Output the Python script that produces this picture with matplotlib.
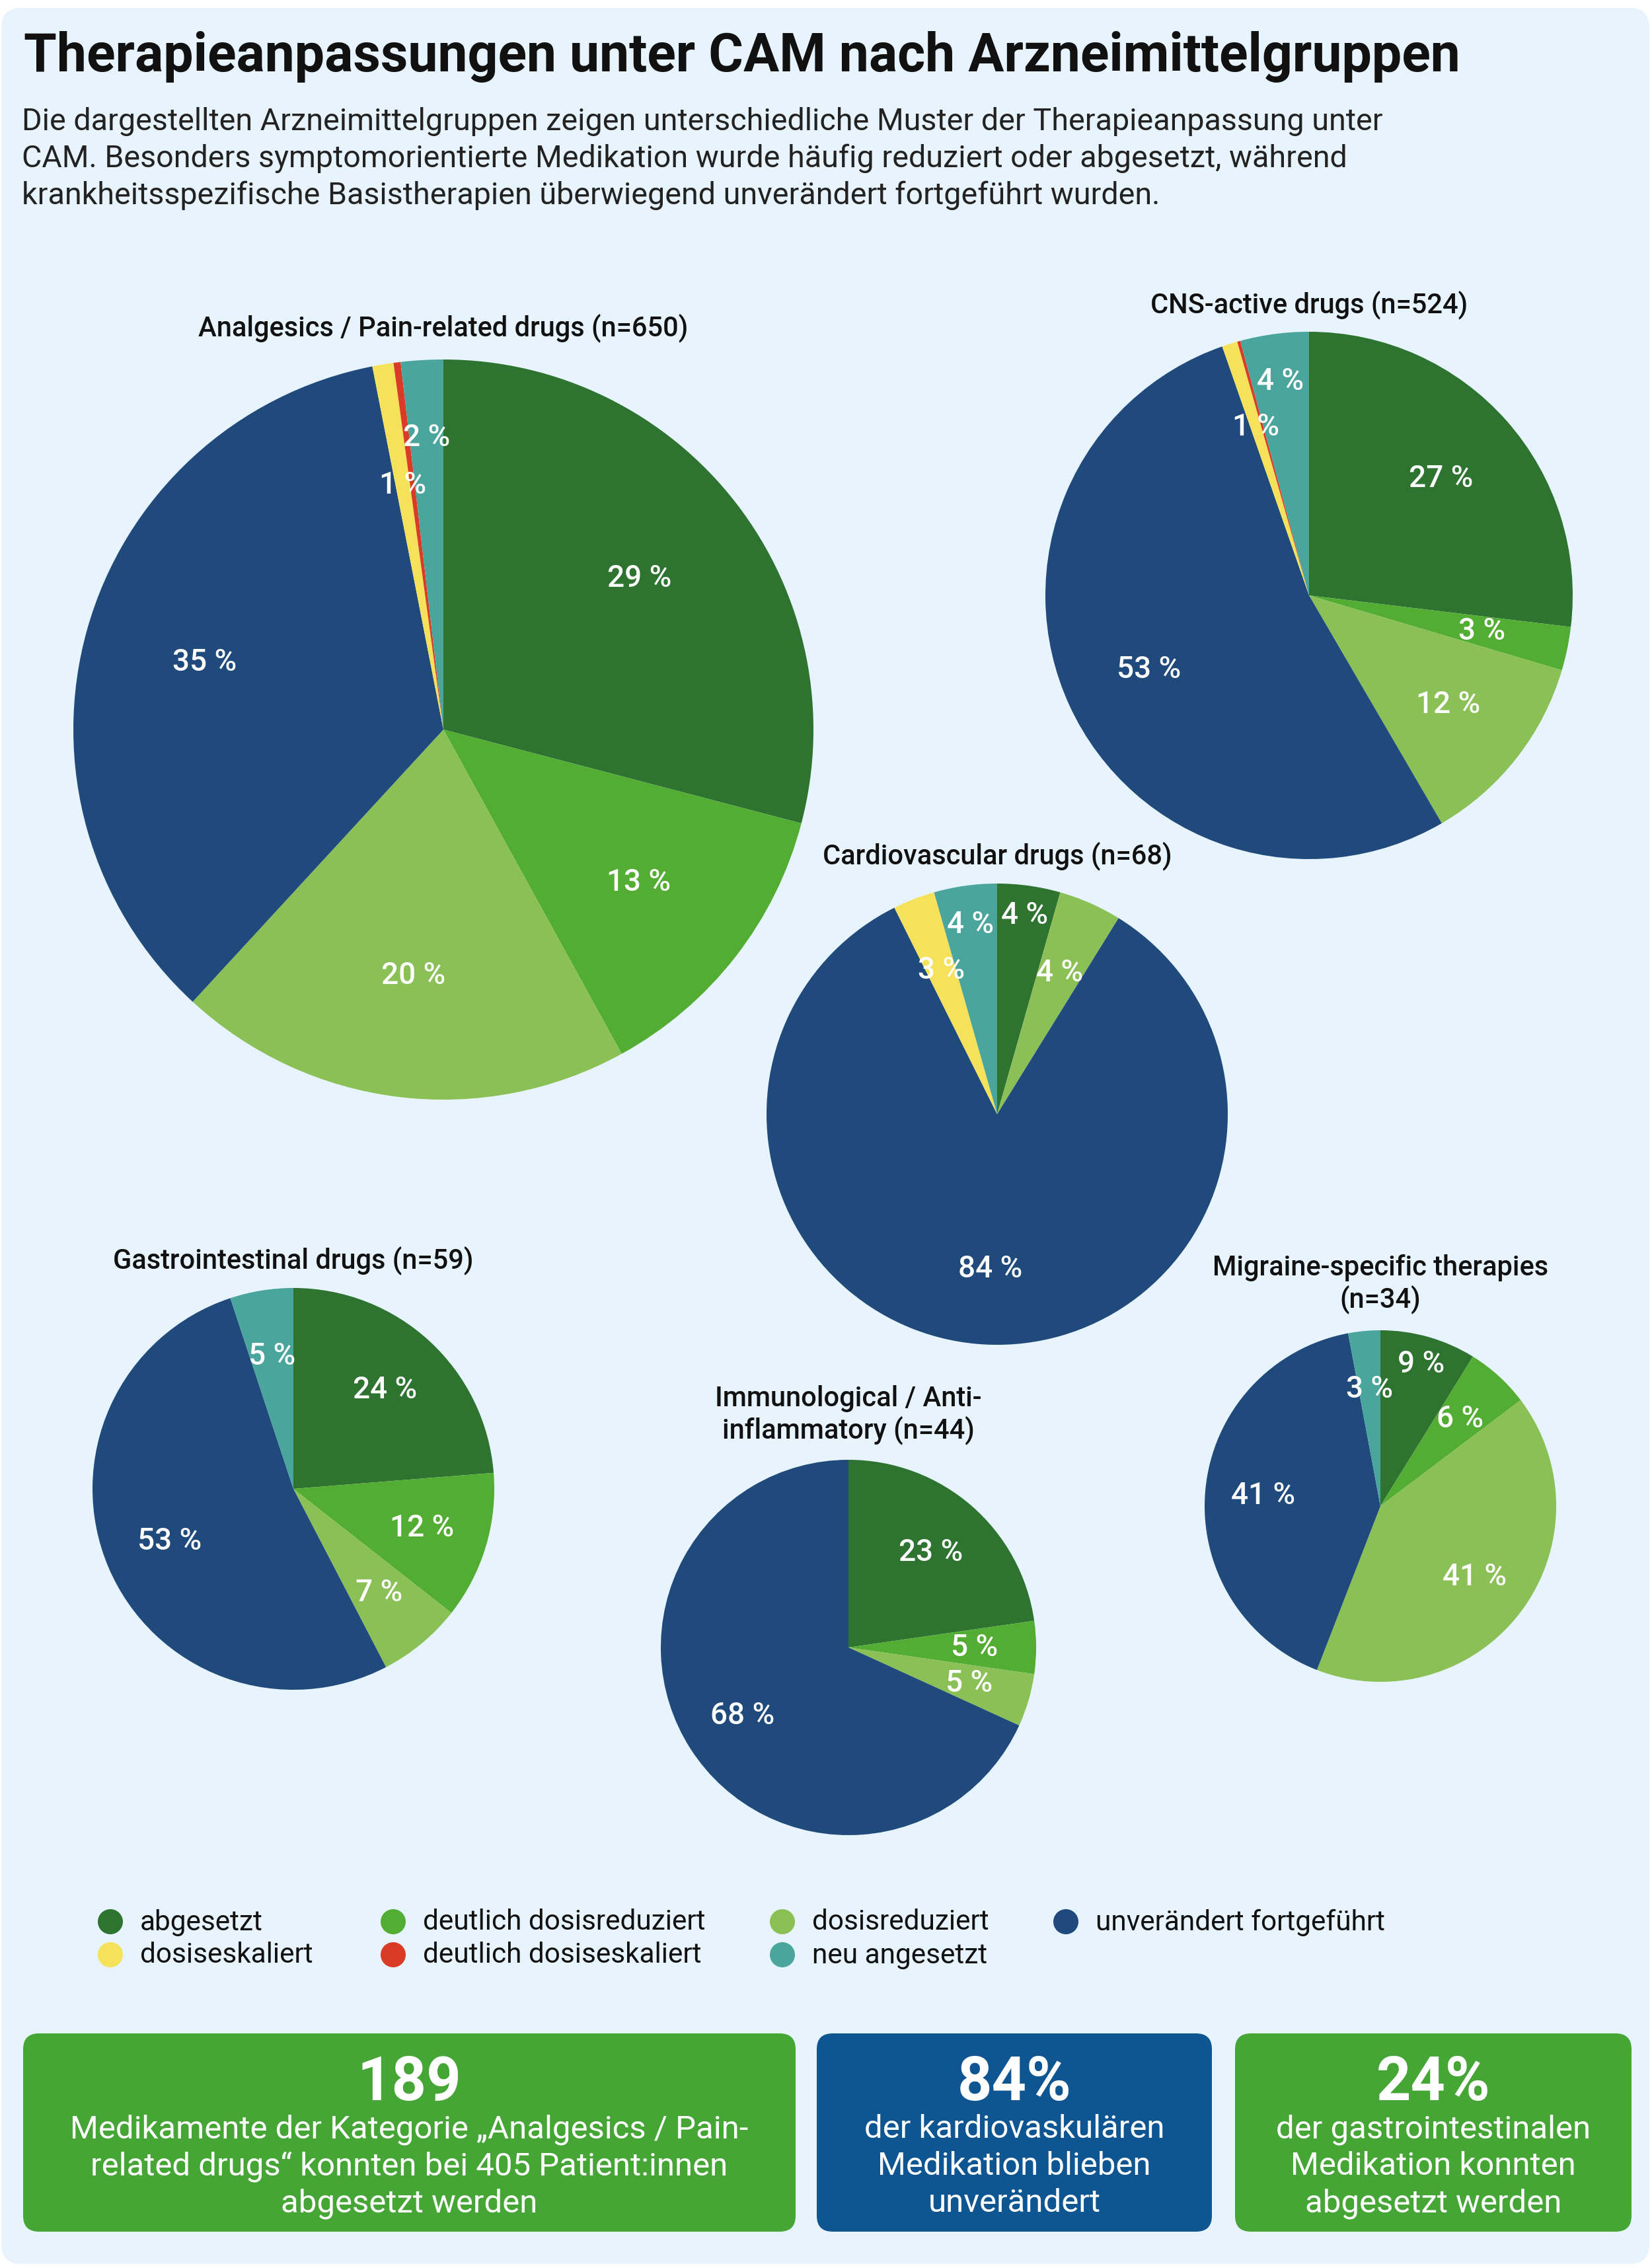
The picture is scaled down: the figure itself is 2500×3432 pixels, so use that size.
import matplotlib
matplotlib.use("Agg")
import matplotlib.pyplot as plt
from matplotlib.patches import FancyBboxPatch, Circle
import numpy as np

plt.rcParams['font.family'] = ['Roboto', 'DejaVu Sans']

W, H = 2500, 3432

# ---- data ----
categories = ['abgesetzt', 'deutlich dosisreduziert', 'dosisreduziert', 'unverändert fortgeführt',
              'dosiseskaliert', 'deutlich dosiseskaliert', 'neu angesetzt']
colors = ['#2F7331', '#53AD33', '#8BC057', '#1F4A7B', '#F6E15B', '#DA3B26', '#4AA59D']

group_titles = ['Analgesics / Pain-related drugs (n=650)',
                'CNS-active drugs (n=524)',
                'Cardiovascular drugs (n=68)',
                'Gastrointestinal drugs (n=59)',
                'Immunological / Anti-\ninflammatory (n=44)',
                'Migraine-specific therapies\n(n=34)']

# counts per category (same order as categories)
analgesics = [189, 84, 129, 228, 6, 2, 12]
cns = [141, 14, 63, 278, 5, 1, 22]
cardiovascular = [3, 0, 3, 57, 2, 0, 3]
gastrointestinal = [14, 7, 4, 31, 0, 0, 3]
immunological = [10, 2, 2, 30, 0, 0, 0]
migraine = [3, 2, 14, 14, 0, 0, 1]
group_counts = [analgesics, cns, cardiovascular, gastrointestinal, immunological, migraine]

kpi_values = ['189', '84%', '24%']
kpi_texts = ['Medikamente der Kategorie „Analgesics / Pain-\nrelated drugs“ konnten bei 405 Patient:innen\nabgesetzt werden',
             'der kardiovaskulären\nMedikation blieben\nunverändert',
             'der gastrointestinalen\nMedikation konnten\nabgesetzt werden']
kpi_colors = ['#45A535', '#0E5592', '#45A535']

# ---- layout (pixels) ----
# (center x, center y, radius, title y)
pie_layout = [(671, 1104, 560, 496),
              (1981, 901, 399, 461),
              (1509, 1686, 349, 1295),
              (444, 2253, 304, 1907),
              (1284, 2493, 284, 2141),
              (2089, 2279, 266, 1943)]
# labels pushed outward to avoid overlap: (pie, category) -> relative radius
label_push = {(0, 6): 0.79, (1, 6): 0.82, (2, 6): 0.83, (2, 0): 0.87, (5, 0): 0.84}
label_r = 0.67

kpi_boxes = [(35, 3077, 1204, 3377), (1236, 3077, 1834, 3377), (1869, 3077, 2469, 3377)]

fig = plt.figure(figsize=(W / 100, H / 100), dpi=100)
fig.patch.set_facecolor('white')
bg = fig.add_axes([0, 0, 1, 1])
bg.set_xlim(0, W)
bg.set_ylim(H, 0)
bg.axis('off')

bg.add_patch(FancyBboxPatch((2, 12), W - 6, H - 18, boxstyle='round,pad=0,rounding_size=30',
                            facecolor='#E8F4FD', edgecolor='none'))

bg.text(36, 108, 'Therapieanpassungen unter CAM nach Arzneimittelgruppen',
        fontsize=58, fontweight='bold', color='#111111', va='baseline')
subtitle = ['Die dargestellten Arzneimittelgruppen zeigen unterschiedliche Muster der Therapieanpassung unter',
            'CAM. Besonders symptomorientierte Medikation wurde häufig reduziert oder abgesetzt, während',
            'krankheitsspezifische Basistherapien überwiegend unverändert fortgeführt wurden.']
for i, line in enumerate(subtitle):
    bg.text(33, 197 + i * 56, line, fontsize=33.6, color='#222222', va='baseline')

# ---- pies ----
for gi, counts in enumerate(group_counts):
    cx, cy, r, ty = pie_layout[gi]
    ax = fig.add_axes([(cx - r) / W, 1 - (cy + r) / H, 2 * r / W, 2 * r / H])
    idx = [i for i, c in enumerate(counts) if c > 0]
    vals = [counts[i] for i in idx]
    wedges, _ = ax.pie(vals, colors=[colors[i] for i in idx], startangle=90, counterclock=False,
                       radius=1, wedgeprops=dict(linewidth=0))
    ax.set_xlim(-1, 1)
    ax.set_ylim(-1, 1)
    ax.axis('off')
    total = sum(counts)
    for w, i in zip(wedges, idx):
        pct = counts[i] / total * 100
        if pct < 0.5:
            continue
        ang = np.deg2rad((w.theta1 + w.theta2) / 2)
        d = label_push.get((gi, i), label_r)
        ax.text(d * np.cos(ang), d * np.sin(ang), f'{pct:.0f} %', ha='center', va='center',
                fontsize=33, fontweight='medium', color='white')
    bg.text(cx, ty, group_titles[gi], ha='center', va='center', fontsize=30,
            fontweight='medium', color='#111111', linespacing=1.15)

# ---- legend ----
leg_cols = [167, 595, 1184, 1613]
leg_rows = [2908, 2958]
for k, cat in enumerate(categories):
    col = k % 4
    row = k // 4
    x, y = leg_cols[col], leg_rows[row]
    bg.add_patch(Circle((x, y), 19, facecolor=colors[k], edgecolor='none'))
    bg.text(x + 45, y + 1, cat, fontsize=30.5, color='#111111', va='center')

# ---- KPI boxes ----
for (x0, y0, x1, y1), val, txt, c in zip(kpi_boxes, kpi_values, kpi_texts, kpi_colors):
    bg.add_patch(FancyBboxPatch((x0, y0), x1 - x0, y1 - y0, boxstyle='round,pad=0,rounding_size=24',
                                facecolor=c, edgecolor='none'))
    xc = (x0 + x1) / 2
    bg.text(xc, 3178, val, ha='center', va='baseline', fontsize=66, fontweight='bold', color='white')
    for j, line in enumerate(txt.split('\n')):
        bg.text(xc, 3235 + j * 56, line, ha='center', va='baseline', fontsize=35.4, color='white')

fig.savefig('out.png', dpi=100, facecolor=fig.get_facecolor())
